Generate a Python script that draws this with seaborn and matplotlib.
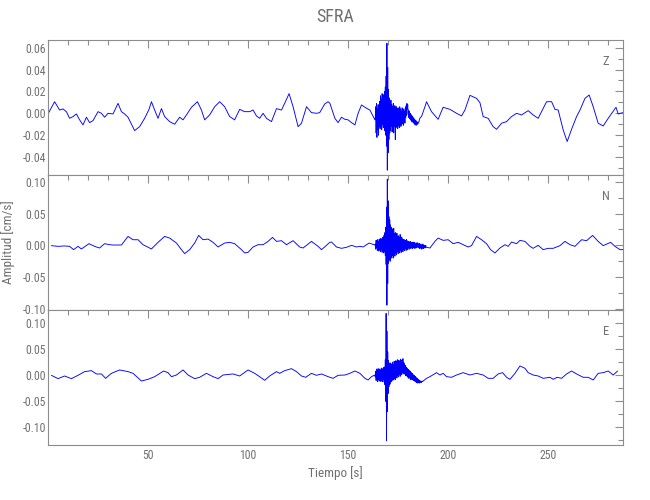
import numpy as np
import pandas as pd
import matplotlib
matplotlib.use("Agg")
import matplotlib.pyplot as plt
import matplotlib.font_manager as fm
from matplotlib.ticker import MultipleLocator, FixedLocator, FormatStrFormatter
import seaborn as sns

# ---- data (time in s, amplitude in cm/s) ----
dt_burst = 0.2
t_burst0 = 163.6

z_pre_t = [0, 3.3, 5.8, 7.5, 9.2, 10.8, 12.5, 14.2, 15.8, 17.5, 19.2, 20.8, 22.5, 25, 26.7, 28.3, 30, 32.5,
           35, 36.7, 38.3, 40, 43.3, 45.8, 48.3, 50.5, 51.7, 53.3, 55, 56.7, 58.3, 60.8, 63.3, 65.8, 67.5,
           69.2, 71.7, 74.7, 76.7, 78.3, 80.8, 83.3, 85.8, 88.3, 90.8, 93.3, 95.8, 98.3, 100.8, 102.5,
           104.2, 105.8, 107.5, 109.2, 111.7, 114.2, 116.7, 118.3, 120.5, 122.5, 125, 126.7, 129.2, 131.7,
           134.2, 135.8, 138.3, 140, 140.9, 143.4, 145, 146.7, 148.4, 150, 151.7, 153.4, 155, 156.7, 159.2,
           160.9, 163.4]
z_pre_v = [-0.0006, 0.0106, 0.003, 0.004, 0.0015, -0.0046, -0.003, -0.0006, -0.006, -0.0106, -0.0036,
           -0.0085, -0.0067, 0.0015, 0.0, -0.0036, 0.0, -0.0006, 0.0091, 0.0015, -0.0006, -0.0036, -0.0158,
           -0.0122, -0.0046, 0.0036, 0.0106, 0.003, -0.0046, 0.0043, -0.003, -0.0076, -0.01, -0.0036, -0.006,
           -0.0015, 0.0055, 0.0106, 0.003, -0.006, -0.0015, 0.006, 0.0106, 0.006, -0.003, -0.006, 0.0036,
           0.0015, 0.0015, 0.003, -0.0024, -0.0046, 0.0, -0.0046, -0.0076, 0.0043, 0.003, 0.0091, 0.018,
           0.006, -0.0122, -0.0091, 0.006, 0.0006, 0.0, 0.0006, 0.0085, 0.0106, 0.0091, -0.0046, -0.0085,
           -0.0036, -0.0055, -0.006, -0.0085, -0.0106, 0.0, 0.0076, 0.0046, 0.003, -0.006]
z_burst_v = [-0.004, 0.006, -0.018, 0.009, -0.022, 0.004, -0.015, 0.008, -0.020, 0.002, -0.012, 0.011,
             -0.014, 0.016, -0.008, 0.013, -0.015, 0.018, -0.010, 0.014, -0.013, 0.017, -0.006, 0.020,
             -0.016, 0.024, -0.020, 0.034, -0.030, 0.064, -0.052, 0.042, -0.036, 0.022, -0.024, 0.014,
             -0.018, 0.010, -0.016, 0.012, -0.012, 0.008, -0.017, 0.006, -0.014, 0.009, -0.018, 0.004,
             -0.012, 0.007, -0.024, 0.005, -0.013, 0.006, -0.010, 0.004, -0.014, 0.005, -0.011, 0.003,
             -0.013, 0.006, -0.009, 0.004, -0.012, 0.002, -0.010, 0.005, -0.009, 0.003, -0.011, 0.004,
             -0.008, 0.002, -0.009, 0.005, -0.004, 0.007, -0.002, 0.009, 0.004, 0.008, -0.001, 0.003,
             -0.004, 0.002, -0.005, 0.000, -0.006, -0.001, -0.007, -0.002, -0.008, -0.003, -0.008, -0.004,
             -0.009, -0.005, -0.010, -0.006, -0.010, -0.007, -0.011, -0.007, -0.010, -0.008, -0.010, -0.009,
             -0.008, -0.008, -0.006, -0.005, -0.004]
z_post_t = [186.7, 188.4, 189.2, 191.7, 195, 197.5, 200.9, 204.2, 206.7, 208.4, 210.9, 214.2, 215.9, 217.5,
            220, 222.5, 224.2, 226.7, 229.2, 231.7, 234.2, 236.7, 240, 242.5, 245, 249.2, 251.7, 253.4, 255,
            257.5, 259.5, 261.7, 264.2, 265.9, 268.4, 270.5, 272.5, 275, 277.5, 280, 283.9, 285, 287.2]
z_post_v = [-0.003, 0.006, 0.0106, 0.0015, -0.0055, 0.0055, 0.0036, 0.0, -0.0024, 0.003, 0.0164, 0.0137,
            0.0097, -0.003, -0.0046, -0.0122, -0.0146, -0.0091, -0.0076, -0.003, 0.0, -0.0015, 0.0024,
            -0.0015, -0.0046, 0.0106, 0.0106, 0.0036, 0.003, -0.0152, -0.0258, -0.0146, -0.003, 0.003,
            0.0137, 0.0167, 0.006, -0.0091, -0.0116, -0.0046, 0.0055, -0.0006, 0.0006]

n_pre_t = [1.7, 5, 8.3, 10.8, 12.8, 15, 16.7, 20.5, 22.5, 24.2, 25.8, 28.3, 30.8, 32.5, 36.7, 40, 42.5, 45,
           47.5, 51.7, 55, 58.3, 60.8, 64.2, 66.7, 68.3, 70.8, 73.3, 75.3, 77.5, 80, 82.5, 85, 88.3, 90.8,
           93.3, 96.7, 98.3, 100, 102.5, 105, 107.5, 110, 112.2, 114.2, 116.7, 119.2, 122.5, 125.8, 127.5,
           131.7, 135, 136.7, 138.3, 140.8, 141.7, 144.2, 146.7, 149.2, 151.7, 154.2, 155.9, 157.5, 160.5,
           163.4]
n_pre_v = [-0.0005, -0.0016, -0.001, -0.0016, -0.0068, -0.0016, -0.0057, 0.0026, -0.0005, -0.0026, -0.0042,
           0.0026, 0.001, 0.0005, 0.0005, 0.014, 0.0088, 0.0088, 0.001, -0.0057, 0.0047, 0.014, 0.0114,
           0.0036, -0.0068, -0.013, -0.0068, 0.0036, 0.0156, 0.0088, 0.0099, 0.0047, -0.0026, 0.0036, 0.0047,
           0.0026, -0.0068, -0.012, -0.011, -0.0026, 0.001, 0.001, 0.0062, 0.0125, 0.0062, 0.0073, 0.001,
           0.0073, -0.0026, -0.0042, 0.0062, -0.0016, -0.0068, -0.0026, 0.0047, 0.0052, -0.0026, -0.0047,
           -0.0031, 0.0, -0.0026, -0.0016, -0.0026, 0.0036, 0.0005]
n_burst_v = [0.002, -0.006, 0.008, -0.004, 0.007, -0.008, 0.009, -0.005, 0.006, -0.009, 0.010, -0.006,
             0.008, -0.010, 0.011, -0.007, 0.009, -0.011, 0.012, -0.008, 0.013, -0.012, 0.016, -0.010,
             0.020, -0.016, 0.028, -0.030, 0.060, -0.094, 0.104, -0.060, 0.070, -0.028, 0.045, -0.022,
             0.040, -0.025, 0.032, -0.018, 0.028, -0.020, 0.026, -0.016, 0.022, -0.020, 0.027, -0.014,
             0.018, -0.017, 0.020, -0.012, 0.016, -0.015, 0.019, -0.010, 0.014, -0.013, 0.015, -0.009,
             0.012, -0.012, 0.017, -0.008, 0.011, -0.011, 0.013, -0.007, 0.010, -0.010, 0.009, -0.006,
             0.009, -0.008, 0.008, -0.005, 0.007, -0.008, 0.009, -0.004, 0.007, -0.007, 0.006, -0.004,
             0.006, -0.006, 0.005, -0.004, 0.006, -0.005, 0.004, -0.003, 0.005, -0.005, 0.003, -0.004,
             0.005, -0.003, 0.004, -0.005, 0.002, -0.003, 0.004, -0.004, 0.003, -0.002, 0.004, -0.004,
             0.002, -0.003, 0.003, -0.005, 0.001, -0.004, 0.002, -0.006, 0.000, -0.005, 0.002, -0.004,
             0.001, -0.005, 0.000, -0.003, -0.001, -0.004, 0.000, -0.003]
n_post_t = [190.9, 193.4, 195, 197.5, 200, 202.5, 205, 207.5, 210, 211.7, 214.2, 216.7, 219.2, 221.2, 223.4,
            225.9, 228.4, 230, 231.7, 234.2, 235.9, 238.4, 240.9, 242.5, 245, 247.5, 250, 252.5, 255.9,
            258.4, 260.9, 263.4, 266.7, 269.2, 272.2, 275, 277.5, 281.2, 283.4, 285.9, 287.5]
n_post_v = [-0.0042, 0.0062, 0.0114, 0.0078, 0.0088, 0.0026, 0.0047, 0.001, -0.0026, -0.0005, 0.014, 0.0088,
            0.0026, -0.0068, -0.012, -0.0042, 0.001, -0.0016, 0.0052, 0.0026, 0.0078, 0.0062, -0.0016,
            -0.0047, 0.0, -0.0068, -0.0047, -0.0047, -0.0005, 0.0062, 0.001, -0.0016, 0.0088, 0.0073,
            0.0156, 0.0062, -0.0005, 0.0047, -0.0016, -0.0068, -0.0068]

e_pre_t = [1.7, 5, 8.3, 11.7, 15, 18.3, 21.7, 24.2, 26.7, 28.8, 31.7, 35.8, 40, 42.5, 46.7, 50, 53.3, 57.8,
           60, 61.7, 64.2, 67.5, 70, 73.3, 75.8, 79.2, 82.5, 85, 87.5, 92.5, 95.8, 100, 103.3, 105.8, 108.3,
           110.8, 114.2, 115.8, 118.3, 121.7, 124.2, 126.7, 128.8, 131.7, 134.2, 136.7, 140, 142.5, 145,
           148.4, 150.9, 153.4, 155.9, 158.4, 160, 161.7, 163.3]
e_pre_v = [0.0, -0.0064, -0.0013, -0.0064, 0.0, 0.0071, 0.009, 0.0026, 0.0026, -0.0058, 0.0038, 0.0103,
           0.0071, 0.0038, -0.0109, -0.0077, -0.0026, 0.0083, 0.0051, -0.0026, 0.0006, 0.0103, 0.0006,
           -0.0064, -0.0038, 0.0038, -0.0026, -0.0064, 0.0006, 0.0026, -0.0013, 0.0103, 0.0038, -0.0026,
           -0.0096, -0.0013, 0.0071, 0.0038, 0.009, 0.0128, 0.0071, -0.0013, -0.0038, 0.0038, 0.0, 0.0026,
           -0.0026, -0.0058, 0.0, 0.0006, 0.0038, 0.0083, 0.0038, -0.0058, -0.009, -0.0026, 0.0006]
e_burst_v = [-0.003, 0.008, -0.010, 0.012, -0.006, 0.010, -0.012, 0.013, -0.008, 0.009, -0.011, 0.012,
             -0.006, 0.010, -0.012, 0.014, -0.009, 0.011, -0.012, 0.013, -0.007, 0.015, -0.013, 0.016,
             -0.018, 0.030, -0.050, 0.119, -0.126, 0.085, -0.070, 0.045, -0.035, 0.028, -0.022, 0.022,
             -0.018, 0.024, -0.015, 0.020, -0.012, 0.022, -0.010, 0.025, -0.008, 0.021, -0.009, 0.027,
             -0.006, 0.024, -0.008, 0.028, -0.004, 0.026, -0.005, 0.030, 0.000, 0.027, -0.003, 0.029,
             0.002, 0.026, -0.002, 0.031, 0.004, 0.028, 0.001, 0.030, 0.006, 0.032, 0.003, 0.025, 0.005,
             0.022, 0.002, 0.019, -0.001, 0.016, 0.000, 0.014, -0.003, 0.012, -0.004, 0.011, -0.006, 0.009,
             -0.005, 0.008, -0.008, 0.006, -0.007, 0.004, -0.009, 0.003, -0.008, 0.001, -0.010, 0.000,
             -0.011, -0.002, -0.012, -0.003, -0.013, -0.005, -0.014, -0.006, -0.015, -0.008, -0.014, -0.009,
             -0.015, -0.010, -0.013, -0.011, -0.014, -0.012, -0.013, -0.011, -0.012]
e_post_t = [189.2, 190.9, 194.2, 195.9, 197.5, 199.2, 201.7, 204.2, 207.5, 210.9, 214.2, 217.5, 220, 222.5,
            225, 227.2, 229.2, 230.9, 233.4, 235.9, 238.4, 240, 242.5, 245, 247.5, 250.9, 252.5, 254.5,
            256.7, 259.2, 261.7, 264.2, 267.5, 270, 272.5, 275, 277.5, 280, 282.5, 284.7]
e_post_v = [-0.0058, -0.0026, 0.0051, 0.0006, 0.0038, -0.0026, -0.0038, 0.0006, 0.0051, 0.0006, 0.0038,
            0.0006, -0.0058, -0.0058, 0.0026, 0.0051, -0.0038, -0.0077, 0.0038, 0.018, 0.0135, 0.0051,
            0.0006, -0.0013, -0.0058, -0.0038, -0.0077, -0.0038, -0.0058, 0.0026, 0.0083, 0.0026, -0.0038,
            -0.0038, -0.009, 0.0038, 0.0051, 0.0083, 0.0006, 0.0083]

components = ["Z", "N", "E"]
ylims = [(-0.0564, 0.067), (-0.1016, 0.1105), (-0.134, 0.1256)]
ymajor = [0.02, 0.05, 0.05]
yminor = [0.01, 0.025, 0.025]
xticks = [50, 100, 150, 200, 250]


def trace(pre_t, pre_v, burst_v, post_t, post_v):
    bt = t_burst0 + dt_burst * np.arange(len(burst_v))
    t = np.concatenate([pre_t, bt, post_t])
    v = np.concatenate([pre_v, burst_v, post_v])
    return pd.DataFrame({"Tiempo": t, "Amplitud": v})


traces = {
    "Z": trace(z_pre_t, z_pre_v, z_burst_v, z_post_t, z_post_v),
    "N": trace(n_pre_t, n_pre_v, n_burst_v, n_post_t, n_post_v),
    "E": trace(e_pre_t, e_pre_v, e_burst_v, e_post_t, e_post_v),
}

sns.set_theme(style="white")
names = {f.name for f in fm.fontManager.ttflist}
family = "DejaVu Sans"
for cand in ["Liberation Sans Narrow", "Roboto Condensed", "Open Sans Condensed", "Liberation Sans"]:
    if cand in names:
        family = cand
        break
plt.rcParams["font.family"] = [family]

grey = "#707070"
frame = "#8c8c8c"

fig = plt.figure(figsize=(6.5, 5), dpi=100)
left, width, height = 48 / 650, 575 / 650, 135 / 500
bottoms = [1 - 175 / 500, 1 - 310 / 500, 1 - 445 / 500]

for i, comp in enumerate(components):
    ax = fig.add_axes([left, bottoms[i], width, height])
    sns.lineplot(data=traces[comp], x="Tiempo", y="Amplitud", ax=ax, color="#0000ff",
                 linewidth=0.65, estimator=None, sort=False)
    ax.set_xlim(0, 287.4)
    ax.set_ylim(*ylims[i])
    ax.xaxis.set_major_locator(FixedLocator(xticks))
    ax.xaxis.set_minor_locator(MultipleLocator(10))
    ax.yaxis.set_major_locator(MultipleLocator(ymajor[i]))
    ax.yaxis.set_minor_locator(MultipleLocator(yminor[i]))
    ax.yaxis.set_major_formatter(FormatStrFormatter("%.2f"))
    ax.tick_params(which="both", direction="in", top=True, right=True, colors=frame,
                   labelcolor=grey, labelsize=8.5, width=0.8)
    ax.tick_params(which="major", length=6)
    ax.tick_params(which="minor", length=3.5)
    ax.tick_params(axis="y", pad=1.5)
    ax.tick_params(axis="x", pad=3)
    for s in ax.spines.values():
        s.set_color(frame)
        s.set_linewidth(0.8)
    ax.set_xlabel("")
    ax.set_ylabel("")
    if i < 2:
        ax.set_xticklabels([])
    ax.text(0.97, 0.84, comp, transform=ax.transAxes, color=grey, fontsize=9,
            ha="center", va="center")

fig.text(0.516, 0.966, "SFRA", color=grey, fontsize=13, ha="center", va="center")
fig.text(0.516, 0.054, "Tiempo [s]", color=grey, fontsize=9.5, ha="center", va="center")
fig.text(0.013, 0.515, "Amplitud [cm/s]", color=grey, fontsize=9.5, ha="center", va="center",
         rotation=90)

fig.savefig("out.png", dpi=100, facecolor="white")
